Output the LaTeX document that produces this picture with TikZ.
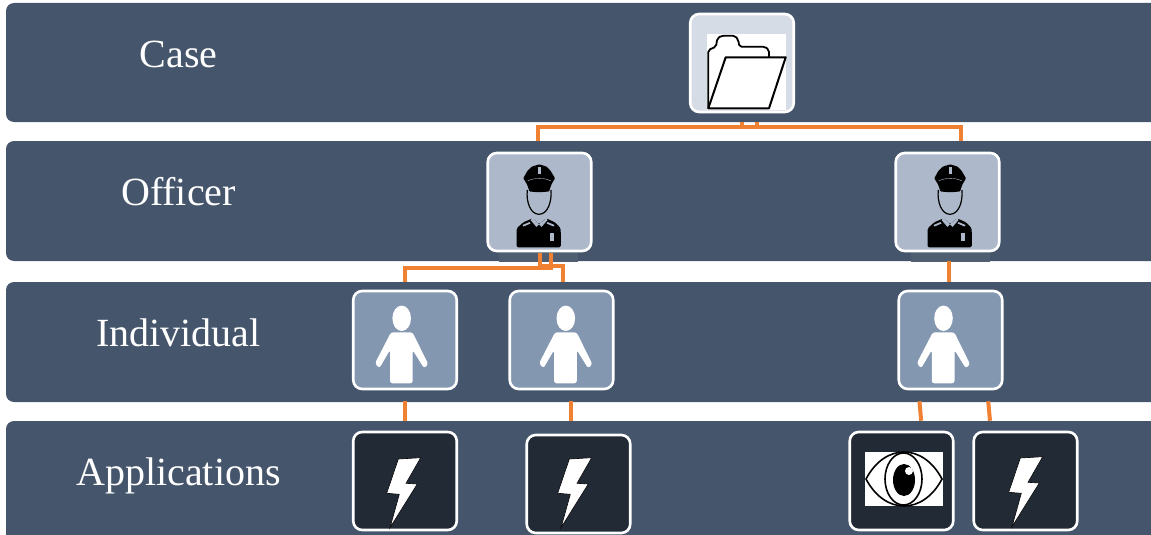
\documentclass[tikz,border=0pt]{standalone}
\usepackage{fontspec}
\setmainfont{Liberation Serif}
\definecolor{tmband}{RGB}{69,85,107}
\definecolor{tmstrip}{RGB}{80,94,114}
\definecolor{tmcase}{RGB}{214,220,229}
\definecolor{tmofficer}{RGB}{173,185,202}
\definecolor{tmindiv}{RGB}{132,151,176}
\definecolor{tmapp}{RGB}{34,42,53}
\definecolor{tmlink}{RGB}{240,128,50}
\tikzset{
  tile/.style={draw=white,line width=2.6pt,rounded corners=9pt,minimum width=103.5pt,minimum height=98pt,inner sep=0pt},
  link/.style={draw=tmlink,line width=4pt},
  rowlabel/.style={text=white,anchor=base,font=\fontsize{40}{44}\selectfont},
  pics/bolt/.style={code={
    \fill[white,draw=black,line width=0.6pt] (-6.7,-22) -- (15.7,-23.3) -- (1,2.3) -- (12.3,3) -- (-15,46.7) -- (-5.7,13.3) -- (-18.3,12.3) -- cycle;
  }},
  pics/person/.style={code={
    \fill[white] (-3.3,-21.7) ellipse (9.3 and 12.7);
    \fill[white,rounded corners=2.5pt] (-14,-7.7) -- (7.5,-7.7) -- (23.3,24.3) -- (19,28.3) -- (7.7,10) -- (7.7,43.3) -- (-15,43.3) -- (-15,10) -- (-25.7,28.3) -- (-30,23.3) -- cycle;
  }},
  pics/cop/.style={code={
    \draw[black,line width=1.2pt] (-12.2,-12) .. controls (-13.5,0) and (-9,12.3) .. (-0.5,12.3) .. controls (8,12.3) and (12.5,0) .. (11.5,-12);
    \fill[black,rounded corners=0.8pt] (-0.2,-37.7) -- (7.2,-35.3) -- (11.2,-31) -- (15.5,-23.7) -- (12,-17.7) -- (9.5,-10.5) -- (-0.5,-9.7) -- (-10,-10.5) -- (-12.5,-17.7) -- (-16.2,-23.7) -- (-12.2,-31) -- (-7.8,-35.3) -- cycle;
    \fill[tmofficer] (-1.5,-35) rectangle (1.1,-28.5);
    \draw[tmofficer,line width=0.4pt] (-12,-21) .. controls (-5,-24.5) and (5,-24.5) .. (11.5,-21);
    \fill[black,rounded corners=1.5pt] (-23,45.3) -- (-22.8,26.3) -- (-16.2,20.3) -- (-6.8,16.3) -- (-0.5,22.3) -- (6.5,16.3) -- (15.5,20.3) -- (21.2,26.3) -- (21.4,45.3) -- cycle;
    \fill[tmofficer] (-6.8,16.3) -- (-0.5,22.3) -- (-3,25) -- (-9,18) -- cycle;
    \fill[tmofficer] (6.5,16.3) -- (-0.5,22.3) -- (2,25) -- (8,18) -- cycle;
    \fill[tmofficer] (-17,23) -- (-10,20) -- (-9,21.5) -- (-16,24.5) -- cycle;
    \fill[tmofficer] (15,23) -- (8,20) -- (7,21.5) -- (14,24.5) -- cycle;
    \fill[tmofficer] (10.2,30.5) rectangle (14.2,38.5);
  }},
}
\begin{document}
\begin{tikzpicture}[x=1pt,y=-1pt]
  \useasboundingbox (0,0) rectangle (1151,535);
  \foreach \i/\top/\bot/\lab in {1/3/122/Case,2/141/261/Officer,3/282/402/Individual,4/421/560/Applications}{
    \fill[tmband,rounded corners=8pt] (6,\top) rectangle (1170,\bot);
    \node[rowlabel] (row\i) at (178.5,\top+64) {\lab};
  }
  \fill[tmstrip] (499,250) rectangle (578,262);
  \fill[tmstrip] (911,250) rectangle (990,262);
  \node[tile,fill=tmcase] (case) at (742,63) {};
  \node[tile,fill=tmofficer] (off1) at (539.5,202) {};
  \node[tile,fill=tmofficer] (off2) at (947.5,202) {};
  \node[tile,fill=tmindiv] (ind1) at (405,340) {};
  \node[tile,fill=tmindiv] (ind2) at (561.5,340) {};
  \node[tile,fill=tmindiv] (ind3) at (950.5,340) {};
  \node[tile,fill=tmapp] (app1) at (405,481) {};
  \node[tile,fill=tmapp] (app2) at (578.5,484) {};
  \node[tile,fill=tmapp] (app3) at (901.5,481) {};
  \node[tile,fill=tmapp] (app4) at (1025.5,481) {};
  \draw[link,shorten <=8.5pt,shorten >=11pt] ([xshift=15pt]case.south) -- ++(0,14) -| ([xshift=-1.5pt]off1.north);
  \draw[link,shorten <=8.5pt,shorten >=11pt] (case.south) -- ++(0,14) -| ([xshift=13.5pt]off2.north);
  \draw[link,shorten <=1pt,shorten >=7.5pt] ([xshift=11.5pt]off1.south) -- ++(0,16) -| (ind1.north);
  \draw[link,shorten <=1pt,shorten >=7.5pt] (off1.south) -- ++(0,14) -| ([xshift=1.5pt]ind2.north);
  \draw[link,shorten <=9pt,shorten >=7.5pt] ([xshift=1pt]off2.south) -- ([xshift=-2pt]ind3.north);
  \draw[link,shorten <=11pt,shorten >=10pt] (ind1.south) -- (app1.north);
  \draw[link,shorten <=11pt,shorten >=13pt] ([xshift=9.5pt]ind2.south) -- ([xshift=-7.5pt]app2.north);
  \draw[link,shorten <=11pt,shorten >=10pt] ([xshift=-32pt]ind3.south) -- ([xshift=20.5pt]app3.north);
  \draw[link,shorten <=11pt,shorten >=10pt] ([xshift=36.7pt]ind3.south) -- ([xshift=-34.6pt]app4.north);
  \pic at (off1) {cop};
  \pic at ([xshift=3pt]off2) {cop};
  \pic at (ind1) {person};
  \pic at ([xshift=7.6pt]ind2) {person};
  \pic at ([xshift=-3.7pt]ind3) {person};
  \pic at (app1) {bolt};
  \pic at ([shift={(-2.5,-3)}]app2) {bolt};
  \pic at ([shift={(1.5,-1)}]app4) {bolt};
  \fill[white] (707,34) rectangle (786,110);
  \draw[black,line width=1.8pt,line join=round,rounded corners=2pt] (708.3,108.3) -- (708.3,50) -- (716,46.7) -- (717.3,38.3) -- (721.7,35.7) -- (735,35.7) -- (738.3,40) -- (739.3,46.7) -- (765,46.7) -- (769,50) -- (769,57.3);
  \draw[black,line width=2pt,line join=round] (725.7,57.3) -- (785.7,57.3) -- (769,108.3) -- (708.3,108.3) -- cycle;
  \fill[white] (865,452.3) rectangle (942.7,505.7);
  \draw[black,line width=1.6pt] (866,479) .. controls (885,443) and (923,443) .. (942,479) .. controls (923,515) and (885,515) .. cycle;
  \draw[black,line width=1.6pt] (903.5,479) ellipse (18.5 and 26);
  \fill[black] (904,480) ellipse (11 and 16);
  \fill[white] (909,471) circle (4);
\end{tikzpicture}
\end{document}
